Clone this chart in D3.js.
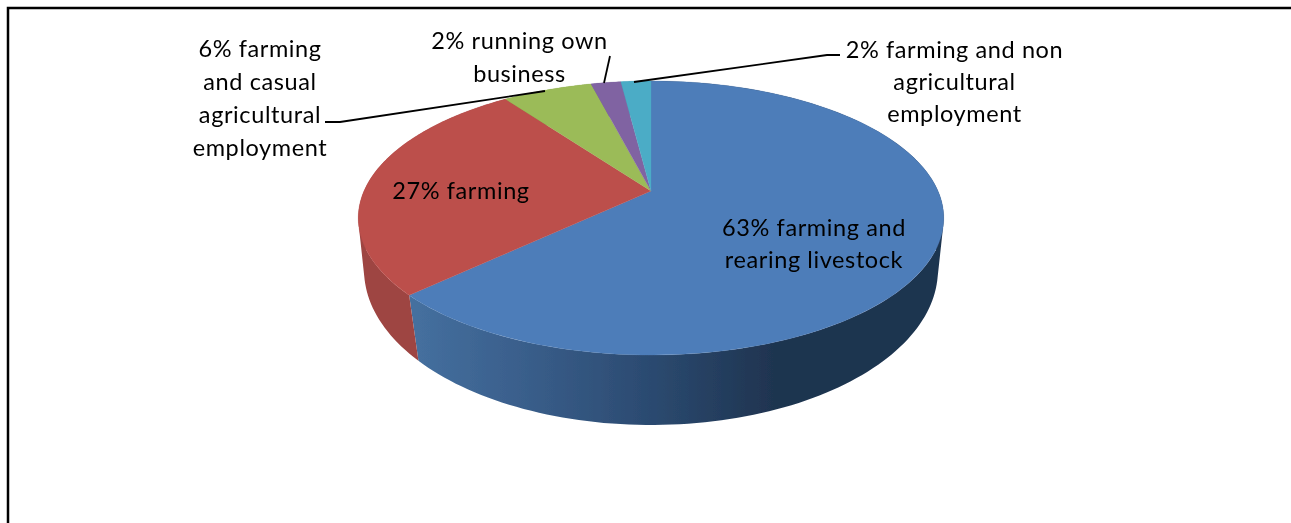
<!DOCTYPE html>
<html><head><meta charset="utf-8">
<script src="https://cdn.jsdelivr.net/npm/d3@7"></script>
<style>html,body{margin:0;padding:0;background:#fff}svg{display:block}</style>
</head><body><svg id="c" width="1291" height="523"></svg>
<script>
const categories = ["farming and rearing livestock","farming","farming and casual agricultural employment","running own business","farming and non agricultural employment"];
const values = [63,27,6,2,2];
const colors = ["#4E7DB9","#BC4F4C","#9BBB59","#8064A2","#4BACC6"];
const sideColors = ["url(#blueSide)","#9E4542","#7F9A49","#69528A","#3E8EA3"];
const labelLines = [
  ["63% farming and","rearing livestock"],
  ["27% farming"],
  ["6% farming","and casual","agricultural","employment"],
  ["2% running own","business"],
  ["2% farming and non","agricultural","employment"]];

const W=1291,H=523;
const svg=d3.select("#c");
const cx=651;
// perspective disc projection
const top_={R:287,y:191,k:131.7,a:.197}, bot={R:283,y:244.4,k:150.8,a:.165};
const proj=(d,t)=>{const u=Math.sin(t),v=Math.cos(t),w=1+d.a*v;return [cx+d.R*u/w,d.y-d.k*v/w];};
const pie=d3.pie().sort(null).value(d=>d);
const arcs=pie(values);
const line=d3.line();
const samples=(a,b,n)=>d3.range(0,n+1).map(i=>a+(b-a)*i/n);

const defs=svg.append("defs");
const g=defs.append("linearGradient").attr("id","blueSide").attr("gradientUnits","userSpaceOnUse")
 .attr("x1",412).attr("x2",944).attr("y1",0).attr("y2",0);
[[0,"#45709F"],[.2,"#3A5F8C"],[.45,"#2B4A70"],[.68,"#1F3450"],[1,"#1F3450"]].forEach(s=>g.append("stop").attr("offset",s[0]).attr("stop-color",s[1]));
defs.append("filter").attr("id","soft").append("feGaussianBlur").attr("stdDeviation",.6);
defs.append("filter").attr("id","softText").append("feGaussianBlur").attr("stdDeviation",.3);

const pie3=svg.append("g").attr("filter","url(#soft)");
// sides: one path per slice, built from quads that all wind the same way, so folds fill solidly
arcs.forEach((a,i)=>{
  const ts=samples(a.startAngle,a.endAngle,Math.max(4,Math.round((a.endAngle-a.startAngle)*40)));
  const d=d3.pairs(ts).map(([t0,t1])=>{
    const q=[proj(top_,t0),proj(top_,t1),proj(bot,t1),proj(bot,t0)];
    if(d3.polygonArea(q)<0) q.reverse();
    return line(q)+"Z";
  }).join("");
  pie3.append("path").attr("d",d).attr("fill",sideColors[i]).attr("fill-rule","nonzero");
});
// top faces
arcs.forEach((a,i)=>{
  const pts=[[cx,top_.y]].concat(samples(a.startAngle,a.endAngle,120).map(t=>proj(top_,t)));
  pie3.append("path").attr("d",line(pts)+"Z").attr("fill",colors[i]).attr("stroke",colors[i]).attr("stroke-width",.3);
});

// frame: left and top edges only; the right and bottom are cropped away
const frame=d3.path();frame.moveTo(8,H);frame.lineTo(8,8);frame.lineTo(W,8);
svg.append("path").attr("d",frame.toString()).attr("fill","none").attr("stroke","#000").attr("stroke-width",2.5);

// leader lines
const leaders=[
 [[325,122],[340,122],[545,91]],
 [[610,56],[604,83]],
 [[840,55],[827,55],[634,82]]];
leaders.forEach(l=>svg.append("path").attr("d",line(l)).attr("fill","none").attr("stroke","#000").attr("stroke-width",1.8));

// labels
const labelPos=[[814,228],[461,191],[260,49],[519.5,41],[954.5,50]];
const lineGap=[32,0,33,33,32];
const labels=svg.append("g").attr("filter","url(#softText)");
labelLines.forEach((ls,i)=>{
 ls.forEach((s,j)=>{
  labels.append("text").attr("x",labelPos[i][0]).attr("y",labelPos[i][1]+j*lineGap[i]).attr("dy","0.35em")
   .attr("text-anchor","middle").attr("font-family","Lato, sans-serif").attr("font-size",23.5)
   .attr("letter-spacing",.6).attr("fill","#000").text(s);
 });
});
</script></body></html>
